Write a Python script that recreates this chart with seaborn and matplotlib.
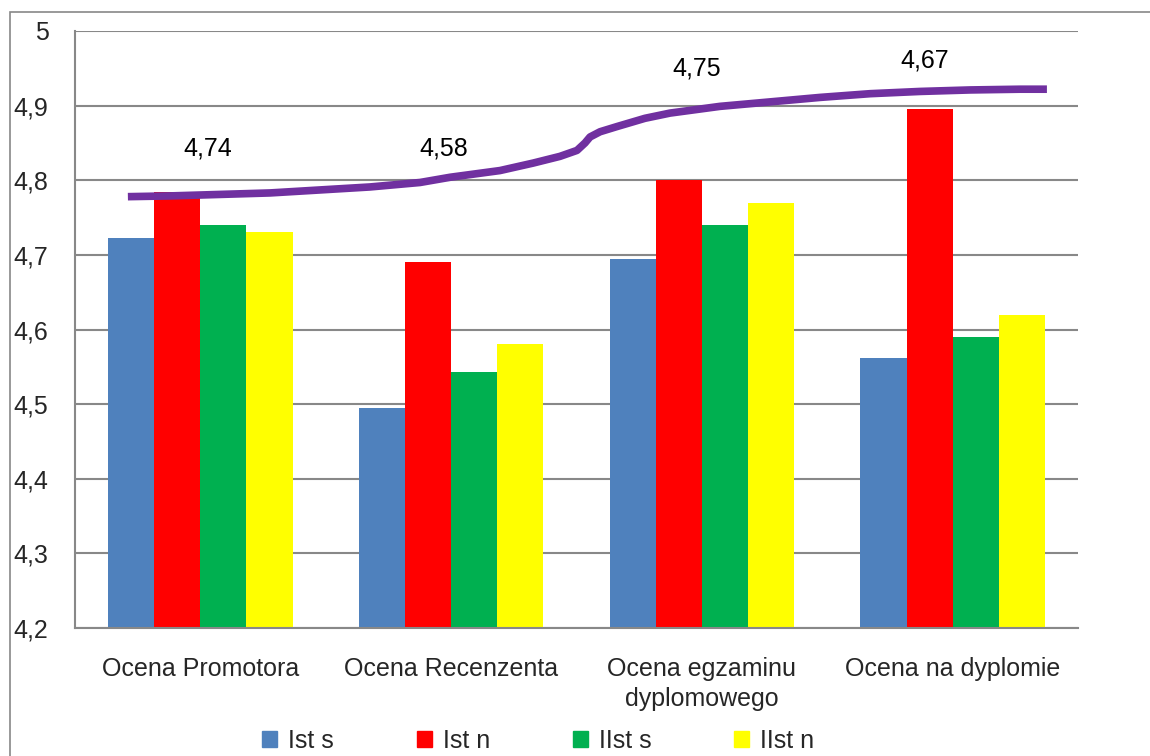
import numpy as np
import matplotlib
matplotlib.use("Agg")
import matplotlib.pyplot as plt
import seaborn as sns
import pandas as pd
from matplotlib.patches import Rectangle

# chart data
categories = ["Ocena Promotora", "Ocena Recenzenta", "Ocena egzaminu\ndyplomowego", "Ocena na dyplomie"]
series = ["Ist s", "Ist n", "IIst s", "IIst n"]
ist_s = [4.723, 4.495, 4.695, 4.562]
ist_n = [4.784, 4.69, 4.80, 4.895]
iist_s = [4.74, 4.543, 4.74, 4.59]
iist_n = [4.73, 4.58, 4.77, 4.62]
colors = ["#4F81BD", "#FF0000", "#00B050", "#FFFF00"]

# purple trend line (category units) and its labels
line_x = [-0.289, -0.121, 0.078, 0.278, 0.477, 0.676, 0.876, 0.996, 1.195, 1.327, 1.434, 1.502,
          1.534, 1.554, 1.594, 1.662, 1.773, 1.873, 2.072, 2.272, 2.471, 2.671, 2.870, 3.069, 3.269, 3.376]
line_y = [4.778, 4.779, 4.781, 4.783, 4.787, 4.791, 4.797, 4.804, 4.813, 4.823, 4.832, 4.840,
          4.850, 4.858, 4.865, 4.872, 4.883, 4.890, 4.899, 4.905, 4.911, 4.916, 4.919, 4.921, 4.922, 4.922]
label_text = ["4,74", "4,58", "4,75", "4,67"]
label_x = [0.03, 0.97, 1.98, 2.89]
label_y = [4.843, 4.843, 4.950, 4.961]

yticks = [4.2, 4.3, 4.4, 4.5, 4.6, 4.7, 4.8, 4.9, 5.0]
ytick_labels = ["4,2", "4,3", "4,4", "4,5", "4,6", "4,7", "4,8", "4,9", "5"]

df = pd.DataFrame({
    "cat": np.repeat(categories, 4),
    "series": series * 4,
    "value": [v for quad in zip(ist_s, ist_n, iist_s, iist_n) for v in quad],
})

sns.set_style("white")
plt.rcParams["font.family"] = ["Liberation Sans", "DejaVu Sans"]
grid_col = "#888888"
fs = 18

fig = plt.figure(figsize=(11.5, 7.56), dpi=100)
ax = fig.add_axes([0.0652, 0.1693, 0.8722, 0.7897])

sns.barplot(data=df, x="cat", y="value", hue="series", order=categories, hue_order=series,
            palette=colors, width=0.735, linewidth=0, saturation=1, ax=ax, legend=False, zorder=2)

sns.lineplot(x=line_x, y=line_y, color="#7030A0", linewidth=5.5, sort=False, estimator=None,
             ax=ax, zorder=3, solid_capstyle="butt", solid_joinstyle="round")

for t, x, y in zip(label_text, label_x, label_y):
    ax.text(x, y, t, ha="center", va="center", fontsize=fs, color="black", zorder=4)

ax.set_xlim(-0.5, 3.5)
ax.set_ylim(4.2, 5.0)
ax.set_yticks(yticks)
ax.set_yticklabels(ytick_labels, fontsize=fs)
ax.yaxis.grid(True, color=grid_col, linewidth=1.5, zorder=0)
ax.set_axisbelow(True)

ax.set_xticks(range(4))
ax.set_xticklabels(categories, fontsize=fs, linespacing=1.3)
ax.set_xticks([-0.5, 0.5, 1.5, 2.5, 3.5], minor=True)
ax.tick_params(axis="x", which="major", length=0, pad=21)
ax.tick_params(axis="x", which="minor", length=7, width=1.5, color=grid_col, direction="out")
ax.tick_params(axis="y", length=7, width=1.5, color=grid_col, direction="out", pad=12)
ax.set_xlabel("")
ax.set_ylabel("")

for s in ["top", "right"]:
    ax.spines[s].set_visible(False)
for s in ["left", "bottom"]:
    ax.spines[s].set_color(grid_col)
    ax.spines[s].set_linewidth(1.5)

# legend along the bottom edge
handles = [Rectangle((0, 0), 1, 1, color=c) for c in colors]
fig.legend(handles, series, loc="center", bbox_to_anchor=(0.468, 0.02), ncol=4, frameon=False,
           fontsize=fs, handlelength=0.6, handleheight=0.6, handletextpad=0.45, columnspacing=3.3)

# outer chart frame
fig.patches.append(Rectangle((10 / 1150, -0.05), 1.1, (756 - 12) / 756 + 0.05, transform=fig.transFigure,
                             fill=False, edgecolor=grid_col, linewidth=1.2))

fig.savefig("out.png", dpi=100)
